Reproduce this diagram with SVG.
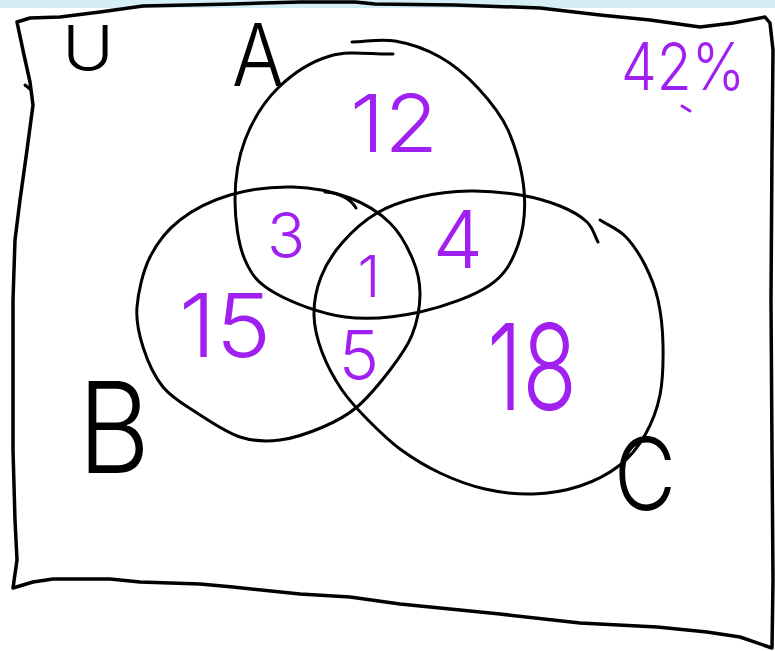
<svg xmlns="http://www.w3.org/2000/svg" width="775" height="651" viewBox="0 0 775 651">
<style>
.ink{fill:none;stroke:#000;stroke-width:3;stroke-linecap:round;stroke-linejoin:round}
.lbl{font-family:Inter,"Liberation Sans",sans-serif;font-weight:300;fill:#000;text-anchor:middle}
.num{font-family:Inter,"Liberation Sans",sans-serif;font-weight:300;fill:#a020f0;text-anchor:middle}
</style>
<rect x="0" y="0" width="775" height="651" fill="#ffffff"/>
<rect x="0" y="0" width="775" height="8" fill="#d5edf4"/>
<g id="universe">
<path class="ink" style="stroke-width:3.5" d="M17,22 L30,18 L60,17 L100,12 L143,6 L233,4 L300,2 L355,2 L375,4 L455,5 L540,8 L600,15 L650,20 L700,27 L733,23 L765,17 L770,23 L773,50 L772,150 L771,300 L772,450 L773,580 L772,648 L740,637 L707,632 L657,627 L580,623 L500,614 L400,604 L350,597 L300,594 L233,587 L200,584 L140,582 L110,579 L53,579 L33,582 L13,588 L17,560 L15,520 L13,450 L13,373 L13,300 L15,240 L20,200 L27,150 L33,105 L30,82 L24,55 Z"/>
<path class="ink" d="M25,85 L30,89"/>
</g>
<g id="connectors"></g>
<g id="circle-A">
<path class="ink" d="M352,42 C366.3,41.7 380.3,38.5 395,41 C409.7,43.5 426.2,49.2 440,57 C453.8,64.8 466.7,75.8 478,88 C489.3,100.2 500.3,113 508,130 C515.7,147 522.3,170.8 524,190 C525.7,209.2 523.7,229.2 518,245 C512.3,260.8 506.3,273.8 490,285 C473.7,296.2 444.2,306.7 420,312 C395.8,317.3 369.2,320.2 345,317 C320.8,313.8 291.7,302.5 275,293 C258.3,283.5 251.7,275.5 245,260 C238.3,244.5 235,220 235,200 C235,180 237.8,158.7 245,140 C252.2,121.3 263.8,102 278,88 C292.2,74 310.8,61.7 330,56 C349.2,50.3 372,54.7 393,54"/>
<text class="lbl" x="258" y="86" font-size="86" textLength="52" lengthAdjust="spacingAndGlyphs">A</text>
</g>
<g id="circle-B">
<path class="ink" d="M293,187 C313,187.5 333.8,192 350,198 C366.2,204 379.5,212.7 390,223 C400.5,233.3 408,248 413,260 C418,272 420.2,282.5 420,295 C419.8,307.5 417,322.5 412,335 C407,347.5 399.2,358 390,370 C380.8,382 368.2,397.5 357,407 C345.8,416.5 335.8,421.5 323,427 C310.2,432.5 293.8,438.3 280,440 C266.2,441.7 253.8,441.5 240,437 C226.2,432.5 209.8,421.3 197,413 C184.2,404.7 172,398 163,387 C154,376 147.3,360.3 143,347 C138.7,333.7 135.8,322 137,307 C138.2,292 142.8,271.5 150,257 C157.2,242.5 166.7,230.3 180,220 C193.3,209.7 211.2,200.5 230,195 C248.8,189.5 273,186.5 293,187 Z"/>
<path class="ink" d="M325,192 C338,193 350,198 356,208"/>
<text class="lbl" x="114" y="473" font-size="126" textLength="72" lengthAdjust="spacingAndGlyphs">B</text>
</g>
<g id="circle-C">
<path class="ink" d="M600,220 C608.3,225.3 617.5,228.5 625,236 C632.5,243.5 639.5,254.3 645,265 C650.5,275.7 655,286.7 658,300 C661,313.3 662.7,329.2 663,345 C663.3,360.8 663,380 660,395 C657,410 651.7,423.3 645,435 C638.3,446.7 630.8,456.5 620,465 C609.2,473.5 594.5,481.2 580,486 C565.5,490.8 548.8,493.5 533,494 C517.2,494.5 500.5,492.5 485,489 C469.5,485.5 454.2,479.7 440,473 C425.8,466.3 412,457.8 400,449 C388,440.2 377.7,429.8 368,420 C358.3,410.2 349.7,401.3 342,390 C334.3,378.7 326.7,364.5 322,352 C317.3,339.5 314.2,327.5 314,315 C313.8,302.5 316.3,289 321,277 C325.7,265 332.7,253.7 342,243 C351.3,232.3 364,220.7 377,213 C390,205.3 404.5,200.7 420,197 C435.5,193.3 453.3,191.3 470,191 C486.7,190.7 505,192.5 520,195 C535,197.5 548.8,201.5 560,206 C571.2,210.5 580.7,216 587,222 C593.3,228 594.3,235.3 598,242"/>
<text class="lbl" x="645" y="510" font-size="100" textLength="62" lengthAdjust="spacingAndGlyphs">C</text>
</g>
<g id="label-U">
<text class="lbl" x="88" y="70" font-size="62" textLength="52" lengthAdjust="spacingAndGlyphs">U</text>
</g>
<g id="regions">
<text id="n-A" class="num" x="394" y="152" font-size="80" textLength="88" lengthAdjust="spacingAndGlyphs">12</text>
<text id="n-AB" class="num" x="286" y="258" font-size="63">3</text>
<text id="n-AC" class="num" x="458" y="268" font-size="80">4</text>
<text id="n-ABC" class="num" x="369" y="297" font-size="58">1</text>
<text id="n-B" class="num" x="225" y="357" font-size="88" textLength="92" lengthAdjust="spacingAndGlyphs">15</text>
<text id="n-BC" class="num" x="359" y="380" font-size="68">5</text>
<text id="n-C" class="num" x="532" y="410" font-size="120" textLength="90" lengthAdjust="spacingAndGlyphs">18</text>
</g>
<g id="note">
<text class="num" x="683" y="90" font-size="66" textLength="124" lengthAdjust="spacingAndGlyphs">42%</text>
<path d="M682,106 L690,111" fill="none" stroke="#a020f0" stroke-width="3" stroke-linecap="round"/>
</g>
</svg>
